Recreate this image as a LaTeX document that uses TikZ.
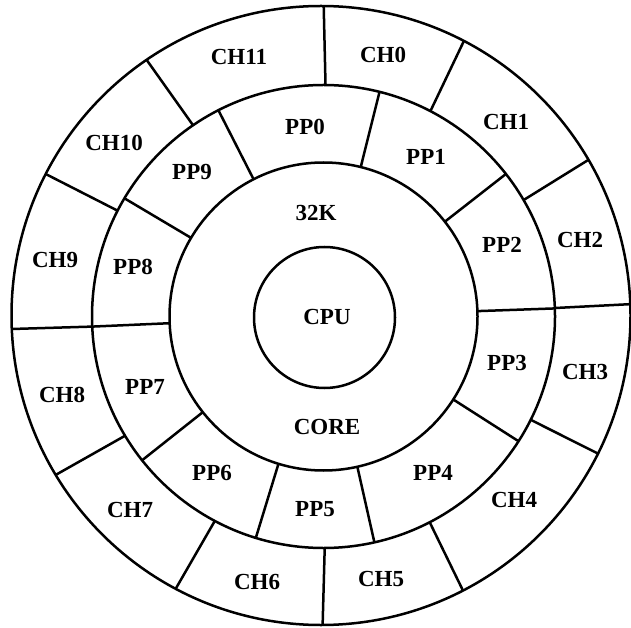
\documentclass[tikz,border=0pt]{standalone}
\usepackage{fontspec}
\setmainfont{Liberation Serif}
\begin{document}
\begin{tikzpicture}[x=1pt,y=1pt,line width=2.5pt,
  lbl/.style={font=\fontsize{23}{26}\selectfont\bfseries, inner sep=0pt}]
\useasboundingbox (0,0) rectangle (631,627);
\coordinate (cO) at (321,311.5);
\coordinate (cM) at (323.5,310.5);
\coordinate (cC) at (324.5,309.5);
% rings
\draw (cO) circle[radius=309.5];
\draw (cM) circle[radius=231.5];
\draw (cM) circle[radius=154];
\draw (cC) circle[radius=70.5];
% channel dividers
\foreach \a in {89.5,62.5,30.2,2.1,-26.5,-62.7,-89.7,-118,211,182.5,152.8,124.3}
  \draw ([shift={(cM)}]\a:231.5) -- ([shift={(cO)}]\a:309.5);
% PP dividers
\foreach \a in {117,76,38,2,-32.6,-77.3,-107,218.4,182.5,149.3}
  \draw ([shift={(cM)}]\a:154) -- ([shift={(cM)}]\a:231.5);
% channel labels
\node[lbl] (ch0) at (383,572) {CH0};
\node[lbl] (ch1) at (506,505) {CH1};
\node[lbl] (ch2) at (580,387) {CH2};
\node[lbl] (ch3) at (585,255) {CH3};
\node[lbl] (ch4) at (514,127) {CH4};
\node[lbl] (ch5) at (381,48) {CH5};
\node[lbl] (ch6) at (257,45) {CH6};
\node[lbl] (ch7) at (130,117) {CH7};
\node[lbl] (ch8) at (62,232) {CH8};
\node[lbl] (ch9) at (55,367) {CH9};
\node[lbl] (ch10) at (114,484) {CH10};
\node[lbl] (ch11) at (239,570) {CH11};
% PP labels
\node[lbl] (pp0) at (305,500) {PP0};
\node[lbl] (pp1) at (426,470) {PP1};
\node[lbl] (pp2) at (502,382) {PP2};
\node[lbl] (pp3) at (507,264) {PP3};
\node[lbl] (pp4) at (433,154) {PP4};
\node[lbl] (pp5) at (315,118) {PP5};
\node[lbl] (pp6) at (212,154) {PP6};
\node[lbl] (pp7) at (145,240) {PP7};
\node[lbl] (pp8) at (133,360) {PP8};
\node[lbl] (pp9) at (192,455) {PP9};
% core
\node[lbl] (k32) at (316,414) {32K};
\node[lbl] (cpu) at (327,310) {CPU};
\node[lbl] (core) at (327,200) {CORE};
\end{tikzpicture}
\end{document}
